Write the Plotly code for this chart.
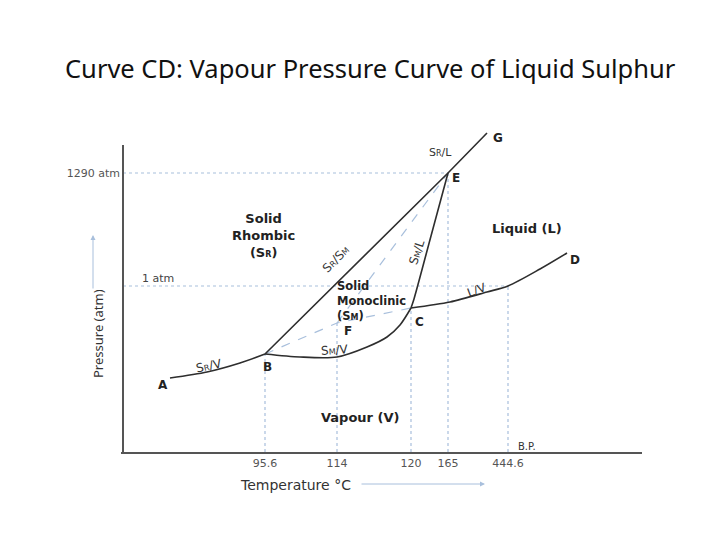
import plotly.graph_objects as go

# ---------------- data (schematic diagram units) ----------------
# Curve AB : S_R / V
curve_AB_x = [47, 84, 117, 142]
curve_AB_y = [74, 80, 89, 98]
# Curve BC : S_M / V
curve_BC_x = [142, 177, 214, 244, 264, 277, 288]
curve_BC_y = [98, 95, 95, 105, 115, 127, 144]
# Curve CE : S_M / L
curve_CE_x = [288, 291, 308, 325]
curve_CE_y = [144, 153, 216, 279]
# Curve CD : L / V
curve_CD_x = [288, 327, 364, 385, 417, 444]
curve_CD_y = [144, 150, 160, 166, 183, 199]
# Line BEG : S_R / S_M  then S_R / L
curve_BEG_x = [142, 325, 364]
curve_BEG_y = [98, 279, 319]

# key points
pt_B = (142, 98)
pt_F = (214, 129)
pt_C = (288, 144)
pt_E = (325, 279)
pt_BP = (385, 166)

# metastable (dashed) lines
meta_BFC_x = [pt_B[0], pt_F[0], pt_C[0]]
meta_BFC_y = [pt_B[1], pt_F[1], pt_C[1]]
meta_FE_x = [pt_F[0], pt_E[0]]
meta_FE_y = [pt_F[1], pt_E[1]]

# axis ticks
temp_pos = [pt_B[0], pt_F[0], pt_C[0], pt_E[0], pt_BP[0]]
temp_labels = ["95.6", "114", "120", "165", "444.6"]
press_pos = [pt_E[1]]
press_labels = ["1290 atm"]
one_atm_y = pt_BP[1]

# point labels
point_names = ["A", "B", "C", "D", "E", "F", "G"]
point_lx = [40, 144, 296, 452, 333, 225, 375]
point_ly = [67, 85, 130, 192, 274, 121, 314]

X_RANGE = [-2, 519]
Y_RANGE = [0, 330]

LINE = "#2e2e2e"
DOT = "#a8bfdc"
AX = "#555555"

fig = go.Figure()

def line(x, y, color=LINE, width=1.6, dash="solid", spline=True):
    fig.add_trace(go.Scatter(x=x, y=y, mode="lines", hoverinfo="skip",
                             line=dict(color=color, width=width, dash=dash,
                                       shape="spline" if spline else "linear",
                                       smoothing=0.8),
                             showlegend=False))

# reference dotted lines
line([0, pt_E[0]], [pt_E[1], pt_E[1]], DOT, 1.2, "dot", False)
line([0, pt_BP[0]], [one_atm_y, one_atm_y], DOT, 1.2, "dot", False)
for (px_, py_) in [pt_B, pt_F, pt_C, pt_E, pt_BP]:
    line([px_, px_], [0, py_], DOT, 1.2, "dot", False)
line(meta_BFC_x, meta_BFC_y, DOT, 1.2, "dash", False)
line(meta_FE_x, meta_FE_y, DOT, 1.2, "dash", False)

# main curves
line(curve_AB_x, curve_AB_y)
line(curve_BC_x, curve_BC_y)
line(curve_CE_x, curve_CE_y)
line(curve_CD_x, curve_CD_y)
line(curve_BEG_x, curve_BEG_y, spline=False)

# y axis line
line([0, 0], [0, 307], AX, 2, spline=False)

BOLD = "DejaVu Sans"
ann = []

def xp(v):
    return (v - X_RANGE[0]) / (X_RANGE[1] - X_RANGE[0])

def yp(v):
    return (v - Y_RANGE[0]) / (Y_RANGE[1] - Y_RANGE[0])

def txt(x, y, t, size=13, bold=True, color="#222", angle=0, xanchor="center",
        align="center", family=BOLD):
    if bold:
        t = "<b>" + t + "</b>"
    ann.append(dict(x=xp(x), y=yp(y), xref="paper", yref="paper", text=t,
                    showarrow=False, xanchor=xanchor,
                    yanchor="middle", align=align, textangle=angle,
                    font=dict(family=family, size=size, color=color)))

def sub(c):
    return "<span style='font-size:8px'>" + c + "</span>"

for n, lx, ly in zip(point_names, point_lx, point_ly):
    txt(lx, ly, n, 12)

txt(140, 217, "Solid<br>Rhombic<br>(S" + sub("R") + ")", 13)
txt(404, 224, "Liquid (L)", 13)
txt(212, 151, "Solid<br>Monoclinic<br>(S" + sub("M") + ")", 11.5, xanchor="left", align="left")
txt(237, 35, "Vapour (V)", 13)
txt(404, 6, "B.P.", 10, bold=False, color="#333")

# curve labels
txt(317, 300, "S" + sub("R") + "/L", 11, bold=False, color="#333")
txt(213, 193, "S" + sub("R") + "/S" + sub("M"), 12, bold=False, color="#333", angle=-45)
txt(294, 200, "S" + sub("M") + "/L", 12, bold=False, color="#333", angle=-72)
txt(354, 162, "L/V", 12, bold=False, color="#333", angle=-20)
txt(86, 86, "S" + sub("R") + "/V", 12, bold=False, color="#333", angle=-12)
txt(212, 102, "S" + sub("M") + "/V", 12, bold=False, color="#333", angle=-4)
txt(35, 174, "1 atm", 11, bold=False, color="#444")

# axis titles
txt(172, -33, "Temperature °C", 14, bold=False, color="#333")
txt(-25, 118, "Pressure (atm)", 13, bold=False, color="#333", angle=-90,
    family="Noto Sans")

# arrows
ann.append(dict(x=xp(362), y=yp(-32), xref="paper", yref="paper",
                ax=-125, ay=0, axref="pixel", ayref="pixel",
                showarrow=True, arrowhead=2, arrowsize=1, arrowwidth=1, arrowcolor=DOT,
                text=""))
ann.append(dict(x=xp(-30), y=yp(217), xref="paper", yref="paper",
                ax=0, ay=55, axref="pixel", ayref="pixel",
                showarrow=True, arrowhead=2, arrowsize=1, arrowwidth=1, arrowcolor=DOT,
                text=""))

# title
ann.append(dict(x=xp(247), y=yp(384), xref="paper", yref="paper", showarrow=False,
                xanchor="center", yanchor="middle",
                text="Curve CD: Vapour Pressure Curve of Liquid Sulphur",
                font=dict(family="Noto Sans", size=25.5, color="#111")))

fig.update_layout(
    width=728, height=546,
    margin=dict(l=121, r=86, t=122, b=94),
    paper_bgcolor="white", plot_bgcolor="white",
    annotations=ann,
    xaxis=dict(range=X_RANGE, showgrid=False, zeroline=False,
               showline=True, linecolor=AX, linewidth=2,
               tickmode="array", tickvals=temp_pos, ticktext=temp_labels,
               ticks="", tickfont=dict(family="DejaVu Sans", size=11, color="#555")),
    yaxis=dict(range=Y_RANGE, showgrid=False, zeroline=False, showline=False,
               tickmode="array", tickvals=press_pos, ticktext=press_labels,
               ticks="", ticklabelstandoff=0,
               tickfont=dict(family="DejaVu Sans", size=11, color="#555")),
)

fig.write_html("out.html", post_script="document.body.style.margin='0';",
               config={"displayModeBar": False})
